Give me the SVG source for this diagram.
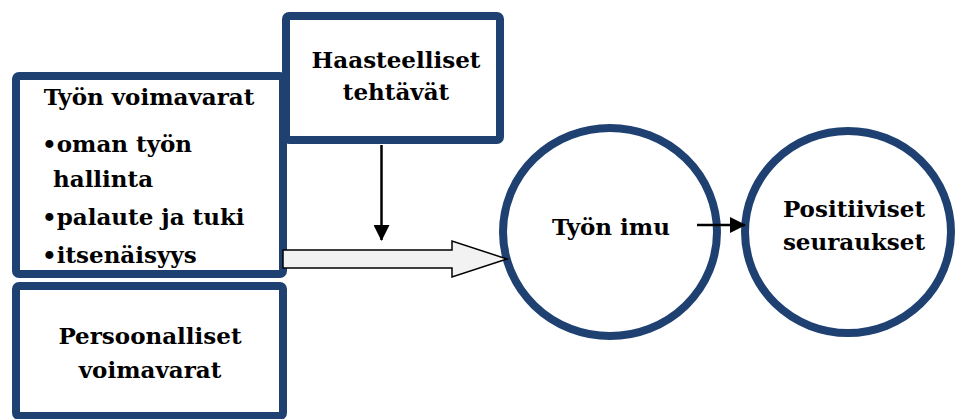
<svg xmlns="http://www.w3.org/2000/svg" width="959" height="419" viewBox="0 0 959 419">
<style>
.box{fill:#ffffff;stroke:#1f4172;stroke-width:8;stroke-linejoin:round}
.t{font-family:"DejaVu Serif","Liberation Serif",serif;font-weight:bold;font-size:23px;fill:#000}
.c{text-anchor:middle}
.ln{stroke:#000;stroke-width:2.5;fill:none}
</style>
<defs>
<marker id="ah" markerWidth="16" markerHeight="16" viewBox="0 0 16 16" refX="15" refY="8" orient="auto" markerUnits="userSpaceOnUse">
<path d="M0,0 L16,8 L0,16 Z" fill="#000"/>
</marker>
</defs>
<rect width="959" height="419" fill="#ffffff"/>
<g id="tyon-voimavarat">
<rect class="box" x="16" y="76" width="267" height="198" rx="3"/>
<text class="t c" x="149" y="105">Työn voimavarat</text>
<text class="t" x="42" y="152">•oman työn</text>
<text class="t" x="53" y="187">hallinta</text>
<text class="t" x="42" y="225">•palaute ja tuki</text>
<text class="t" x="42" y="263">•itsenäisyys</text>
</g>
<g id="haasteelliset">
<rect class="box" x="286" y="16" width="214" height="124" rx="3"/>
<text class="t c" x="396" y="68">Haasteelliset</text>
<text class="t c" x="396" y="100">tehtävät</text>
</g>
<g id="persoonalliset">
<rect class="box" x="16" y="286" width="267" height="130" rx="3"/>
<text class="t c" x="150" y="344">Persoonalliset</text>
<text class="t c" x="150" y="378">voimavarat</text>
</g>
<g id="tyon-imu">
<ellipse class="box" cx="610" cy="232" rx="107" ry="104"/>
<text class="t c" x="611" y="235">Työn imu</text>
</g>
<g id="positiiviset">
<ellipse class="box" cx="848" cy="232" rx="103" ry="101"/>
<text class="t c" x="854" y="217">Positiiviset</text>
<text class="t c" x="854" y="250">seuraukset</text>
</g>
<g id="connectors">
<line class="ln" x1="381.5" y1="145" x2="381.5" y2="240" marker-end="url(#ah)"/>
<path d="M283,250 L452,250 L452,241 L507,259 L452,277 L452,268 L283,268 Z" fill="#f2f2f2" stroke="#000" stroke-width="1.5" stroke-linejoin="miter"/>
<line class="ln" x1="697" y1="225" x2="745" y2="225" marker-end="url(#ah)"/>
</g>
</svg>
